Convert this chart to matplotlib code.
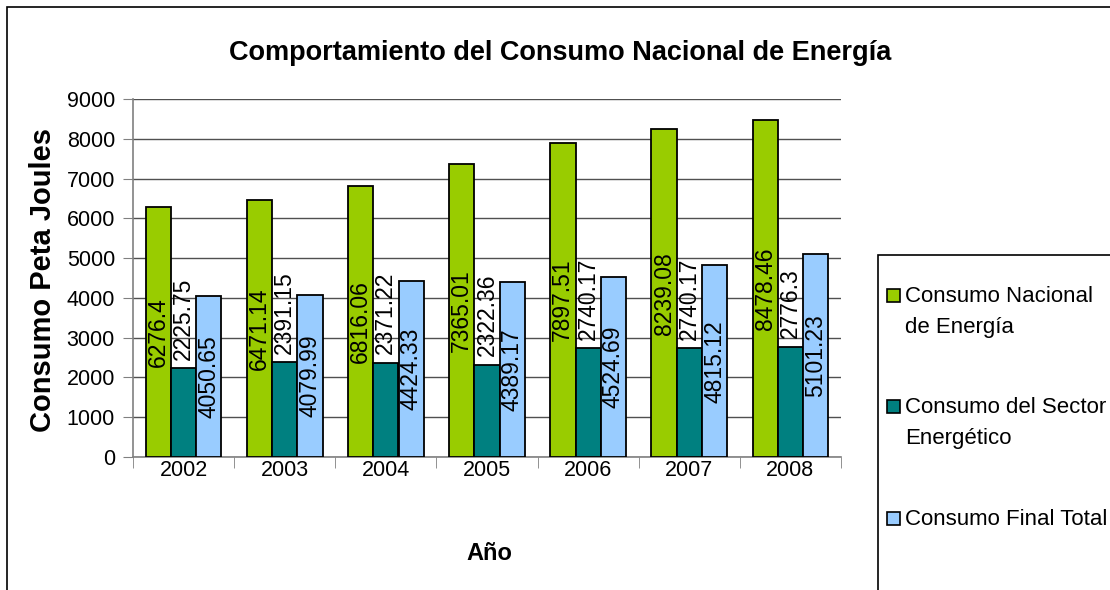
import numpy as np
import matplotlib
matplotlib.use("Agg")
import matplotlib.pyplot as plt
from matplotlib.patches import Rectangle

plt.rcParams['font.family'] = ['Liberation Sans', 'DejaVu Sans']

years = ['2002', '2003', '2004', '2005', '2006', '2007', '2008']
nacional = [6276.4, 6471.14, 6816.06, 7365.01, 7897.51, 8239.08, 8478.46]
sector = [2225.75, 2391.15, 2371.22, 2322.36, 2740.17, 2740.17, 2776.3]
final = [4050.65, 4079.99, 4424.33, 4389.17, 4524.69, 4815.12, 5101.23]
series_names = ['Consumo Nacional\nde Energía', 'Consumo del Sector\nEnergético', 'Consumo Final Total']
colors = ['#99CC00', '#008080', '#99CCFF']

W, H = 1110, 590
fig = plt.figure(figsize=(W / 100, H / 100), dpi=100)
ax = fig.add_axes([133 / W, 1 - 457 / H, 708 / W, 358 / H])

# marco exterior del gráfico
fig.patches.append(Rectangle((7 / W, -0.1), 1.2, 1 - 7 / H + 0.1, transform=fig.transFigure,
                             fill=False, edgecolor='black', lw=1.2))
# caja de la leyenda
fig.patches.append(Rectangle((878 / W, -0.1), 0.3, 1 - 255 / H + 0.1, transform=fig.transFigure,
                             fill=False, edgecolor='black', lw=1.2))

x = np.arange(len(years))
w = 0.25
data = [nacional, sector, final]
for i, (vals, c) in enumerate(zip(data, colors)):
    ax.bar(x + (i - 1) * w, vals, w, color=c, edgecolor='black', lw=1.3, zorder=3)

# etiquetas de datos
for i, vals in enumerate(data):
    for xi, v in zip(x + (i - 1) * w, vals):
        if i == 1:
            ax.annotate(f'{v:g}', (xi, v), xytext=(0, 6), textcoords='offset points',
                        rotation=90, ha='center', va='bottom', fontsize=16.5, zorder=4)
        else:
            ax.text(xi, v / 2, f'{v:g}', rotation=90, ha='center', va='center',
                    fontsize=16.5, zorder=4)

ax.set_xlim(-0.5, len(years) - 0.5)
ax.set_ylim(0, 9000)
ax.set_yticks(np.arange(0, 9001, 1000))
ax.yaxis.grid(True, color='#505050', lw=1, zorder=0)
ax.set_xticks(x)
ax.set_xticklabels(years)
ax.set_xticks(np.arange(-0.5, len(years)), minor=True)
ax.tick_params(axis='x', which='major', length=0, pad=2, labelsize=15.5)
ax.tick_params(axis='x', which='minor', length=8, color='#808080', direction='out')
ax.tick_params(axis='y', length=7, color='#808080', labelsize=15.5, pad=6)
for s in ['top', 'right']:
    ax.spines[s].set_visible(False)
for s in ['left', 'bottom']:
    ax.spines[s].set_color('#808080')
    ax.spines[s].set_linewidth(1.2)

fig.text(560 / W, 1 - 53 / H, 'Comportamiento del Consumo Nacional de Energía',
         ha='center', va='center', fontsize=19.5, fontweight='bold')
fig.text(489 / W, 1 - 553 / H, 'Año', ha='center', va='center', fontsize=17, fontweight='bold')
fig.text(43 / W, 1 - 280 / H, 'Consumo Peta Joules', ha='center', va='center', rotation=90,
         fontsize=21, fontweight='bold')

# leyenda
legend_y = [295, 406, 518]
for name, c, ly in zip(series_names, colors, legend_y):
    fig.patches.append(Rectangle((887 / W, 1 - (ly + 6.5) / H), 13 / W, 13 / H,
                                 transform=fig.transFigure, facecolor=c, edgecolor='black', lw=1.2))
    fig.text(905 / W, 1 - (ly - 9) / H, name, ha='left', va='top', fontsize=16,
             linespacing=1.62)

fig.savefig('out.png', dpi=100)
